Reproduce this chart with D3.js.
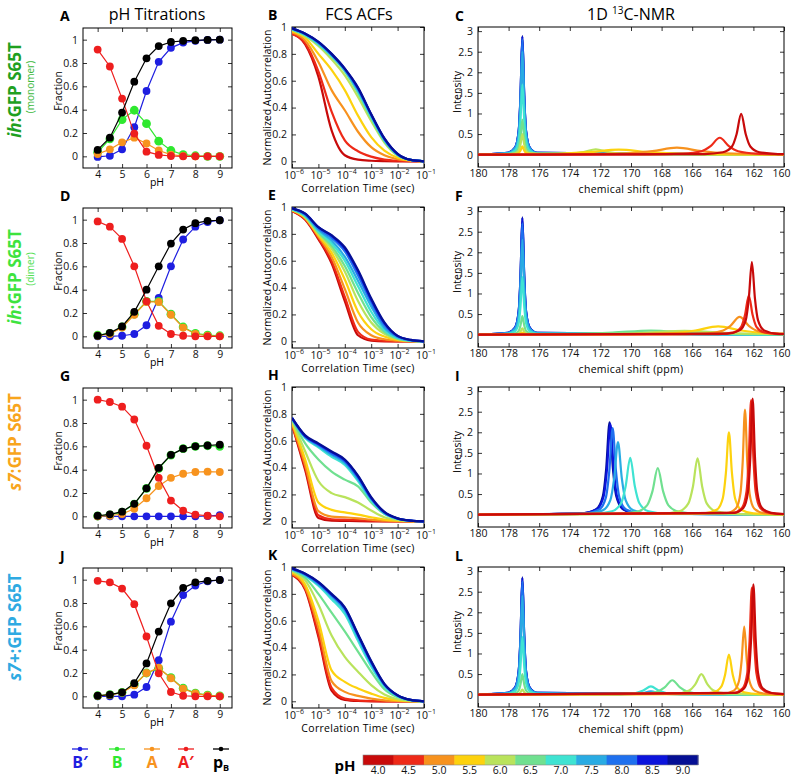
<!DOCTYPE html>
<html><head><meta charset="utf-8">
<script src="https://cdn.jsdelivr.net/npm/d3@7"></script>
<style>body{margin:0;background:#fff}svg{display:block}</style>
</head><body><svg id="c" width="792" height="778"></svg>
<script>
// ================= DATA =================
const pHLabels = ["4.0","4.5","5.0","5.5","6.0","6.5","7.0","7.5","8.0","8.5","9.0"];
const pHColors = ["#c80a0a","#ee2a18","#f7921e","#fdd20e","#b9e35c","#70e090","#3fe3d2","#29abe3","#1f70ee","#0c14dc","#050f94"];

const titrPH = [4,4.5,5,5.5,6,6.5,7,7.5,8,8.5,9];
const seriesNames = ["B′","B","A","A′","p"];
const seriesColors = ["#1e1ee0","#2fe82f","#f7931e","#ee1e1e","#000000"];

// monomer (A)
const monoBp = [-0.005,0.005,0.06,0.25,0.56,0.81,0.93,0.975,0.99,0.998,1.0];
const monoB  = [0.035,0.15,0.315,0.395,0.28,0.13,0.05,0.015,0.005,0.0,0.0];
const monoA  = [0.02,0.06,0.12,0.16,0.11,0.05,0.015,0.003,0,0,0];
const monoAp = [0.915,0.77,0.495,0.195,0.04,0.012,0.003,0,0,0,0];
const monoPB = [0.055,0.16,0.375,0.64,0.84,0.945,0.98,0.99,0.995,0.998,1.0];
// dimer (D)
const dimBp = [0,0,0.005,0.02,0.095,0.33,0.6,0.83,0.94,0.98,0.995];
const dimB  = [0.01,0.025,0.08,0.19,0.3,0.3,0.19,0.08,0.025,0.01,0.005];
const dimA  = [0.005,0.02,0.075,0.185,0.295,0.295,0.185,0.075,0.02,0.005,0.002];
const dimAp = [0.985,0.94,0.835,0.6,0.3,0.09,0.02,0.005,0,0,0];
const dimPB = [0.005,0.03,0.085,0.21,0.4,0.6,0.795,0.915,0.97,0.99,0.995];
// s7 (G)
const s7Bp = [0,0,0,0,0,0,0,0,0,0.003,0.01];
const s7B  = [0.003,0.013,0.035,0.105,0.24,0.41,0.525,0.58,0.6,0.605,0.6];
const s7A  = [0,0.005,0.02,0.065,0.155,0.26,0.33,0.365,0.38,0.383,0.38];
const s7Ap = [1.0,0.98,0.94,0.83,0.605,0.33,0.135,0.048,0.014,0.005,0];
const s7PB = [0.005,0.017,0.04,0.107,0.24,0.415,0.527,0.58,0.6,0.607,0.614];
// s7+ (J)
const s7pBp = [0,0,0,0.014,0.08,0.31,0.64,0.868,0.95,0.986,0.997];
const s7pB  = [0.005,0.014,0.034,0.1,0.2,0.24,0.16,0.07,0.028,0.01,0.003];
const s7pA  = [0.004,0.012,0.032,0.095,0.2,0.245,0.155,0.065,0.025,0.008,0.002];
const s7pAp = [0.99,0.977,0.924,0.79,0.513,0.197,0.037,0.005,0,0,0];
const s7pPB = [0.005,0.014,0.034,0.113,0.282,0.555,0.797,0.93,0.977,0.99,0.997];

// FCS ACFs: log10(tau) sample grid, one curve per pH (4.0 ... 9.0)
const fcsLogTau = [-6,-5.5,-5,-4.5,-4,-3.5,-3,-2.5,-2,-1.5,-1];
const fcsMonomer = [
 [0.95,0.87,0.63,0.23,0.045,0.012,0.004,0.001,0,0,0],
 [0.95,0.88,0.67,0.37,0.155,0.075,0.035,0.013,0.004,0.001,0],
 [0.96,0.9,0.74,0.53,0.38,0.22,0.105,0.045,0.015,0.004,0],
 [0.97,0.92,0.8,0.68,0.53,0.34,0.18,0.08,0.027,0.006,0],
 [0.98,0.93,0.86,0.76,0.64,0.48,0.3,0.14,0.042,0.008,0],
 [0.98,0.94,0.87,0.78,0.67,0.51,0.32,0.15,0.045,0.01,0],
 [0.985,0.94,0.875,0.785,0.675,0.52,0.33,0.155,0.05,0.01,0],
 [0.985,0.945,0.88,0.79,0.68,0.53,0.34,0.16,0.05,0.01,0],
 [0.99,0.95,0.885,0.795,0.685,0.54,0.345,0.165,0.052,0.01,0],
 [0.99,0.95,0.89,0.8,0.69,0.545,0.35,0.17,0.055,0.01,0],
 [0.99,0.95,0.89,0.8,0.69,0.55,0.35,0.17,0.055,0.01,0]
];
const fcsDimer = [
 [0.97,0.905,0.76,0.58,0.3,0.045,0.005,0,0,0,0],
 [0.97,0.91,0.77,0.6,0.33,0.07,0.012,0.003,0,0,0],
 [0.975,0.915,0.78,0.63,0.39,0.14,0.045,0.015,0.004,0,0],
 [0.975,0.92,0.79,0.66,0.46,0.22,0.09,0.035,0.01,0.002,0],
 [0.98,0.925,0.8,0.69,0.52,0.3,0.14,0.055,0.015,0.003,0],
 [0.98,0.93,0.81,0.71,0.56,0.36,0.18,0.07,0.02,0.004,0],
 [0.985,0.935,0.82,0.73,0.6,0.41,0.22,0.085,0.025,0.005,0],
 [0.985,0.94,0.83,0.75,0.63,0.45,0.26,0.1,0.03,0.006,0],
 [0.99,0.945,0.84,0.77,0.67,0.49,0.29,0.12,0.035,0.008,0],
 [0.99,0.95,0.85,0.785,0.69,0.52,0.31,0.135,0.04,0.01,0],
 [0.99,0.95,0.85,0.79,0.7,0.53,0.32,0.14,0.04,0.01,0]
];
const fcsS7 = [
 [0.72,0.38,0.025,0.005,0.003,0.001,0,0,0,0,0],
 [0.72,0.4,0.045,0.015,0.012,0.008,0.004,0.001,0,0,0],
 [0.73,0.42,0.075,0.035,0.03,0.022,0.012,0.004,0.001,0,0],
 [0.74,0.46,0.14,0.085,0.066,0.05,0.03,0.012,0.004,0.001,0],
 [0.75,0.52,0.3,0.21,0.18,0.14,0.08,0.03,0.01,0.002,0],
 [0.76,0.58,0.46,0.37,0.31,0.26,0.14,0.055,0.017,0.004,0],
 [0.765,0.62,0.55,0.48,0.42,0.3,0.155,0.058,0.018,0.004,0],
 [0.765,0.625,0.56,0.495,0.435,0.315,0.165,0.062,0.02,0.004,0],
 [0.77,0.63,0.57,0.505,0.445,0.325,0.17,0.065,0.02,0.005,0],
 [0.77,0.635,0.575,0.515,0.455,0.335,0.175,0.068,0.021,0.005,0],
 [0.77,0.64,0.58,0.52,0.46,0.34,0.18,0.07,0.022,0.005,0]
];
const fcsS7p = [
 [0.94,0.83,0.48,0.08,0.01,0.002,0,0,0,0,0],
 [0.945,0.84,0.5,0.1,0.02,0.007,0.002,0,0,0,0],
 [0.95,0.85,0.55,0.15,0.07,0.04,0.02,0.007,0.002,0,0],
 [0.96,0.87,0.6,0.23,0.145,0.095,0.057,0.025,0.007,0.001,0],
 [0.97,0.9,0.72,0.49,0.33,0.22,0.12,0.05,0.015,0.003,0],
 [0.975,0.92,0.8,0.66,0.52,0.37,0.22,0.09,0.03,0.006,0],
 [0.98,0.935,0.86,0.76,0.65,0.45,0.26,0.11,0.037,0.008,0],
 [0.985,0.94,0.87,0.78,0.675,0.475,0.28,0.12,0.04,0.009,0],
 [0.985,0.945,0.88,0.79,0.69,0.49,0.29,0.125,0.043,0.01,0],
 [0.99,0.95,0.885,0.795,0.695,0.495,0.295,0.128,0.044,0.01,0],
 [0.99,0.95,0.89,0.8,0.7,0.5,0.3,0.13,0.045,0.01,0]
];

// 1D 13C-NMR spectra: [ppm, intensity] points, one spectrum per pH (4.0 ... 9.0)
const nmrMonomer = [
 [[180,0],[165.2,0.015],[164.0,0.058],[163.4,0.198],[163.1,0.495],[162.8,0.99],[162.5,0.495],[162.2,0.198],[161.6,0.058],[160.4,0.015],[160,0.012]],
 [[180,0],[169.0,0.006],[166.6,0.024],[165.4,0.082],[164.8,0.205],[164.2,0.41],[163.6,0.205],[163.0,0.082],[161.8,0.024],[160,0.01]],
 [[180,0],[173.4,0.01],[170.2,0.034],[168.6,0.085],[167.0,0.17],[165.4,0.085],[163.8,0.034],[160.6,0.01],[160,0.008]],
 [[180,0],[178.06,0.003],[177.58,0.012],[177.34,0.04],[177.22,0.1],[177.1,0.2],[176.98,0.1],[176.86,0.042],[176.62,0.02],[174.8,0.026],[172.8,0.06],[170.8,0.12],[168.8,0.06],[166.8,0.024],[162.8,0.007],[160,0.003]],
 [[180,0],[178.06,0.008],[177.58,0.03],[177.34,0.1],[177.22,0.25],[177.1,0.5],[176.98,0.25],[176.86,0.1],[176.62,0.032],[175.5,0.01],[173.9,0.026],[173.1,0.065],[172.3,0.13],[171.5,0.065],[170.7,0.026],[169.1,0.008],[160,0]],
 [[180,0],[178.06,0.013],[177.58,0.05],[177.34,0.17],[177.22,0.43],[177.1,0.85],[176.98,0.43],[176.86,0.17],[176.62,0.05],[176.14,0.015],[173,0.016],[171,0.022],[169,0.04],[167,0.02],[165,0.008],[160,0]],
 [[180,0],[178.06,0.026],[177.58,0.1],[177.34,0.34],[177.22,0.85],[177.1,1.7],[176.98,0.85],[176.86,0.34],[176.62,0.1],[176.14,0.026],[160,0]],
 [[180,0],[178.06,0.038],[177.58,0.15],[177.34,0.5],[177.22,1.25],[177.1,2.5],[176.98,1.25],[176.86,0.5],[176.62,0.15],[176.14,0.038],[160,0]],
 [[180,0],[178.06,0.042],[177.58,0.165],[177.34,0.56],[177.22,1.4],[177.1,2.8],[176.98,1.4],[176.86,0.56],[176.62,0.165],[176.14,0.042],[160,0]],
 [[180,0],[178.06,0.043],[177.58,0.17],[177.34,0.57],[177.22,1.43],[177.1,2.86],[176.98,1.43],[176.86,0.57],[176.62,0.17],[176.14,0.043],[160,0]],
 [[180,0],[178.06,0.044],[177.58,0.17],[177.34,0.58],[177.22,1.44],[177.1,2.88],[176.98,1.44],[176.86,0.58],[176.62,0.17],[176.14,0.044],[160,0]]
];
const nmrDimer = [
 [[180,0],[163.7,0.027],[162.9,0.104],[162.5,0.352],[162.3,0.88],[162.1,1.76],[161.9,0.88],[161.7,0.352],[161.3,0.104],[160.5,0.027],[160,0.02]],
 [[180,0],[164.3,0.015],[163.3,0.056],[162.8,0.19],[162.55,0.475],[162.3,0.95],[162.05,0.475],[161.8,0.19],[161.3,0.056],[160.3,0.015],[160,0.012]],
 [[180,0],[167.7,0.007],[165.3,0.025],[164.1,0.086],[163.5,0.215],[162.9,0.43],[162.3,0.215],[161.7,0.086],[160.5,0.025],[160,0.018]],
 [[180,0],[177.34,0.01],[177.22,0.025],[177.1,0.05],[176.98,0.025],[176.86,0.01],[170.3,0.012],[167.3,0.04],[165.8,0.1],[164.3,0.2],[162.8,0.1],[161.3,0.04],[160,0.022]],
 [[180,0],[177.58,0.009],[177.34,0.03],[177.22,0.075],[177.1,0.15],[176.98,0.075],[176.86,0.03],[176.62,0.01],[171.5,0.018],[169,0.045],[166.5,0.09],[164,0.045],[161.5,0.018],[160,0.012]],
 [[180,0],[178.06,0.007],[177.58,0.026],[177.34,0.09],[177.22,0.23],[177.1,0.45],[176.98,0.23],[176.86,0.09],[176.62,0.03],[176.14,0.012],[173.7,0.02],[171.2,0.05],[168.7,0.1],[166.2,0.05],[163.7,0.02],[160,0.007]],
 [[180,0],[178.06,0.021],[177.58,0.082],[177.34,0.28],[177.22,0.7],[177.1,1.4],[176.98,0.7],[176.86,0.28],[176.62,0.082],[176.14,0.022],[172,0.025],[170,0.05],[168,0.025],[164,0.006],[160,0]],
 [[180,0],[178.06,0.035],[177.58,0.135],[177.34,0.46],[177.22,1.15],[177.1,2.3],[176.98,1.15],[176.86,0.46],[176.62,0.135],[176.14,0.035],[160,0]],
 [[180,0],[178.06,0.04],[177.58,0.16],[177.34,0.54],[177.22,1.35],[177.1,2.7],[176.98,1.35],[176.86,0.54],[176.62,0.16],[176.14,0.04],[160,0]],
 [[180,0],[178.06,0.042],[177.58,0.17],[177.34,0.57],[177.22,1.42],[177.1,2.83],[176.98,1.42],[176.86,0.57],[176.62,0.17],[176.14,0.042],[160,0]],
 [[180,0],[178.06,0.043],[177.58,0.17],[177.34,0.57],[177.22,1.43],[177.1,2.85],[176.98,1.43],[176.86,0.57],[176.62,0.17],[176.14,0.043],[160,0]]
];
const nmrS7 = [
 [[180,0],[163.25,0.044],[162.65,0.166],[162.35,0.564],[162.2,1.41],[162.05,2.82],[161.9,1.41],[161.75,0.564],[161.45,0.166],[160.85,0.044],[160,0.016]],
 [[180,0],[163.35,0.043],[162.75,0.164],[162.45,0.556],[162.3,1.39],[162.15,2.78],[162.0,1.39],[161.85,0.556],[161.55,0.164],[160.95,0.043],[160,0.015]],
 [[180,0],[163.75,0.039],[163.15,0.15],[162.85,0.51],[162.7,1.275],[162.55,2.55],[162.4,1.275],[162.25,0.51],[161.95,0.15],[161.35,0.039],[160,0.012]],
 [[180,0],[165.2,0.031],[164.4,0.118],[164.0,0.4],[163.8,1.0],[163.6,2.0],[163.4,1.0],[163.2,0.4],[162.8,0.118],[162.0,0.031],[160,0.01]],
 [[180,0],[168.05,0.021],[166.85,0.08],[166.25,0.274],[165.95,0.685],[165.65,1.37],[165.35,0.685],[165.05,0.274],[164.45,0.08],[163.25,0.021],[160,0]],
 [[180,0],[171.05,0.017],[169.65,0.066],[168.95,0.226],[168.6,0.565],[168.25,1.13],[167.9,0.565],[167.55,0.226],[166.85,0.066],[165.45,0.017],[160,0]],
 [[180,0],[172.45,0.021],[171.25,0.081],[170.65,0.276],[170.35,0.69],[170.05,1.38],[169.75,0.69],[169.45,0.276],[168.85,0.081],[167.65,0.021],[160,0]],
 [[180,0],[172.85,0.027],[171.85,0.104],[171.35,0.352],[171.1,0.88],[170.85,1.76],[170.6,0.88],[170.35,0.352],[169.85,0.104],[168.85,0.027],[160,0]],
 [[180,0],[172.96,0.032],[172.08,0.124],[171.64,0.42],[171.42,1.05],[171.2,2.1],[170.98,1.05],[170.76,0.42],[170.32,0.124],[169.44,0.032],[160,0]],
 [[180,0],[173.11,0.034],[172.23,0.13],[171.79,0.44],[171.57,1.1],[171.35,2.2],[171.13,1.1],[170.91,0.44],[170.47,0.13],[169.59,0.034],[160,0]],
 [[180,0],[173.16,0.034],[172.28,0.132],[171.84,0.448],[171.62,1.12],[171.4,2.24],[171.18,1.12],[170.96,0.448],[170.52,0.132],[169.64,0.034],[160,0]]
];
const nmrS7p = [
 [[180,0],[163.2,0.041],[162.6,0.158],[162.3,0.536],[162.15,1.34],[162.0,2.68],[161.85,1.34],[161.7,0.536],[161.4,0.158],[160.8,0.041],[160,0.015]],
 [[180,0],[163.3,0.04],[162.7,0.153],[162.4,0.52],[162.25,1.3],[162.1,2.6],[161.95,1.3],[161.8,0.52],[161.5,0.153],[160.9,0.04],[160,0.014]],
 [[180,0],[163.96,0.025],[163.28,0.097],[162.94,0.33],[162.77,0.825],[162.6,1.65],[162.43,0.825],[162.26,0.33],[161.92,0.097],[161.24,0.025],[160,0.008]],
 [[180,0],[165.6,0.015],[164.6,0.057],[164.1,0.194],[163.85,0.485],[163.6,0.97],[163.35,0.485],[163.1,0.194],[162.6,0.057],[161.6,0.015],[160,0.007]],
 [[180,0],[177.58,0.007],[177.34,0.024],[177.22,0.06],[177.1,0.12],[176.98,0.06],[176.86,0.024],[176.62,0.007],[167,0.03],[166.2,0.1],[165.8,0.25],[165.4,0.5],[165.0,0.25],[164.6,0.1],[163.8,0.03],[160,0]],
 [[180,0],[178.06,0.008],[177.58,0.03],[177.34,0.1],[177.22,0.25],[177.1,0.5],[176.98,0.25],[176.86,0.1],[176.62,0.03],[176.14,0.008],[169.3,0.02],[168.3,0.07],[167.8,0.175],[167.3,0.35],[166.8,0.175],[166.3,0.07],[165.3,0.02],[160,0]],
 [[180,0],[178.06,0.021],[177.58,0.082],[177.34,0.28],[177.22,0.7],[177.1,1.4],[176.98,0.7],[176.86,0.28],[176.62,0.082],[176.14,0.021],[170.7,0.012],[169.7,0.04],[169.2,0.1],[168.7,0.2],[168.2,0.1],[167.7,0.04],[166.7,0.012],[160,0]],
 [[180,0],[178.06,0.036],[177.58,0.14],[177.34,0.48],[177.22,1.2],[177.1,2.4],[176.98,1.2],[176.86,0.48],[176.62,0.14],[176.14,0.036],[170.7,0.005],[169.7,0.016],[169.2,0.04],[168.7,0.08],[168.2,0.04],[167.7,0.016],[166.7,0.005],[160,0]],
 [[180,0],[178.06,0.041],[177.58,0.16],[177.34,0.55],[177.22,1.38],[177.1,2.75],[176.98,1.38],[176.86,0.55],[176.62,0.16],[176.14,0.041],[160,0]],
 [[180,0],[178.06,0.042],[177.58,0.17],[177.34,0.57],[177.22,1.42],[177.1,2.83],[176.98,1.42],[176.86,0.57],[176.62,0.17],[176.14,0.042],[160,0]],
 [[180,0],[178.06,0.043],[177.58,0.17],[177.34,0.57],[177.22,1.43],[177.1,2.85],[176.98,1.43],[176.86,0.57],[176.62,0.17],[176.14,0.043],[160,0]]
];

const titrXTicks = [4,5,6,7,8,9];
const fracTicks = [0,0.2,0.4,0.6,0.8,1];
const fcsXTicks = [-6,-5,-4,-3,-2,-1];
const acfTicks = [0,0.2,0.4,0.6,0.8,1];
const ppmTicks = [180,178,176,174,172,170,168,166,164,162,160];
const intTicks = [0,0.5,1,1.5,2,2.5,3];

const colTitles = ["pH Titrations","FCS ACFs","1D 13C-NMR"];
const panelLetters = [["A","B","C"],["D","E","F"],["G","H","I"],["J","K","L"]];
const rowNames = [
  {ital:"ih", rest:":GFP S65T", sub:"(monomer)", color:"#1fa01f", subColor:"#3cb93c", cy:90, sy:87},
  {ital:"ih", rest:":GFP S65T", sub:"(dimer)", color:"#3ee33e", subColor:"#55e055", cy:97, sy:89},
  {ital:"s7", rest:":GFP S65T", sub:null, color:"#f8a51c", cy:82},
  {ital:"s7+", rest:":GFP S65T", sub:null, color:"#2eaae2", cy:87}
];

// ================= DRAW =================
const FONT = '"Open Sans", "DejaVu Sans", sans-serif';
const svg = d3.select("#c").attr("font-family", FONT);
const ROW = 180;
const titrRows = [
  [monoBp, monoB, monoA, monoAp, monoPB],
  [dimBp, dimB, dimA, dimAp, dimPB],
  [s7Bp, s7B, s7A, s7Ap, s7PB],
  [s7pBp, s7pB, s7pA, s7pAp, s7pPB]
];
const fcsRows = [fcsMonomer, fcsDimer, fcsS7, fcsS7p];
const nmrRows = [nmrMonomer, nmrDimer, nmrS7, nmrS7p];

let clipId = 0;
function boxAxes(g, x, y, xt, yt, xfmt, yfmt, opt) {
  const [x0, x1] = x.range(), [yb, yt0] = y.range();
  const L = Math.min(x0,x1), R = Math.max(x0,x1);
  const style = sel => { sel.select(".domain").remove();
    sel.selectAll("line").attr("stroke","#000").attr("stroke-width",0.8);
    sel.selectAll("text").attr("font-family",FONT).attr("font-size",10.5).attr("fill","#111"); };
  const noText = sel => { style(sel); sel.selectAll("text").remove(); };
  const bx = g.append("g").attr("transform",`translate(0,${yb})`)
    .call(d3.axisBottom(x).tickValues(xt).tickSizeInner(-4).tickSizeOuter(0).tickPadding(opt.xpad).tickFormat(xfmt)).call(style);
  if (opt.noXText) bx.selectAll("text").remove();
  if (opt.lastShift) bx.selectAll(".tick text").filter(d => d === xt[xt.length-1]).attr("dx", opt.lastShift);
  g.append("g").attr("transform",`translate(0,${yt0})`)
    .call(d3.axisTop(x).tickValues(xt).tickSizeInner(-4).tickSizeOuter(0)).call(noText);
  g.append("g").attr("transform",`translate(${L},0)`)
    .call(d3.axisLeft(y).tickValues(yt).tickSizeInner(-4).tickSizeOuter(0).tickPadding(opt.ypad).tickFormat(yfmt)).call(style);
  g.append("g").attr("transform",`translate(${R},0)`)
    .call(d3.axisRight(y).tickValues(yt).tickSizeInner(-4).tickSizeOuter(0)).call(noText);
  g.append("rect").attr("x",L).attr("y",yt0).attr("width",R-L).attr("height",yb-yt0)
    .attr("fill","none").attr("stroke","#000").attr("stroke-width",1);
}
function clipFor(g, x, y) {
  const id = "clip"+(clipId++);
  const [x0,x1] = x.range(), [yb,yt0] = y.range();
  svg.append("defs").append("clipPath").attr("id",id).append("rect")
    .attr("x",Math.min(x0,x1)).attr("y",yt0).attr("width",Math.abs(x1-x0)).attr("height",yb-yt0);
  return g.append("g").attr("clip-path",`url(#${id})`);
}
const yFmt01 = d => d===0||d===1? String(d): d3.format(".1f")(d);

for (let r = 0; r < 4; r++) {
  const dy = r*ROW;
  const g = svg.append("g");

  // ---- titration ----
  const xA = d3.scaleLinear([3.4,9.5],[83,232]);
  const yA = d3.scaleLinear([-0.1,1.1],[168+dy,28+dy]);
  boxAxes(g, xA, yA, titrXTicks, fracTicks, d3.format("d"), yFmt01, {xpad:3, ypad:5});
  const ga = clipFor(g, xA, yA);
  titrRows[r].forEach((vals, si) => {
    const pts = titrPH.map((p,i)=>[p, vals[i]]);
    ga.append("path").datum(pts).attr("fill","none").attr("stroke",seriesColors[si]).attr("stroke-width",1.2)
      .attr("d", d3.line().x(d=>xA(d[0])).y(d=>yA(d[1])));
    ga.selectAll(null).data(pts).join("circle").attr("cx",d=>xA(d[0])).attr("cy",d=>yA(d[1]))
      .attr("r", si===1 ? 4.4 : 3.9).attr("fill",seriesColors[si]);
  });
  g.append("text").attr("x",157).attr("y",186+dy).attr("text-anchor","middle").attr("font-size",10.5).text("pH");
  g.append("text").attr("transform",`translate(62,${91+dy}) rotate(-90)`).attr("text-anchor","middle").attr("font-size",10.5).text("Fraction");

  // ---- FCS ----
  const xB = d3.scaleLog([1e-6,1e-1],[292,424]);
  const yB = d3.scaleLinear([-0.05,1],[168+dy,27+dy]);
  const tickTau = fcsXTicks.map(e=>Math.pow(10,e));
  boxAxes(g, xB, yB, tickTau, acfTicks, () => "", yFmt01, {xpad:3, ypad:5, noXText:true});
  fcsXTicks.forEach(e => {
    const t = g.append("text").attr("x",xB(Math.pow(10,e))+2).attr("y",179+dy).attr("text-anchor","middle").attr("font-size",10.5).attr("fill","#111");
    t.append("tspan").text("10");
    t.append("tspan").attr("dy",-5).attr("font-size",7).text("−"+(-e));
  });
  const gb = clipFor(g, xB, yB);
  fcsRows[r].forEach((vals, ci) => {
    const pts = fcsLogTau.map((e,i)=>[Math.pow(10,e), vals[i]]);
    gb.append("path").datum(pts).attr("fill","none").attr("stroke",pHColors[ci]).attr("stroke-width",2.2)
      .attr("stroke-linejoin","round")
      .attr("d", d3.line().x(d=>xB(d[0])).y(d=>yB(d[1])).curve(d3.curveMonotoneX));
  });
  g.append("text").attr("x",358).attr("y",192+dy).attr("text-anchor","middle").attr("font-size",10.5).attr("letter-spacing",0.3).text("Correlation Time (sec)");
  g.append("text").attr("transform",`translate(271,${97.5+dy}) rotate(-90)`).attr("text-anchor","middle").attr("font-size",10.5).text("Normalized Autocorrelation");

  // ---- NMR ----
  const xC = d3.scaleLinear([180,160],[478,784]);
  const yC = d3.scaleLinear([-0.3,3.1],[167+dy,27+dy]);
  boxAxes(g, xC, yC, ppmTicks, intTicks, d3.format("d"), d => String(d), {xpad:3, ypad:5, lastShift:-3});
  const gc = clipFor(g, xC, yC);
  for (let ci = 10; ci >= 0; ci--) {
    const pts = nmrRows[r][ci].slice().sort((a,b)=>b[0]-a[0]);
    gc.append("path").datum(pts).attr("fill","none").attr("stroke",pHColors[ci]).attr("stroke-width",2.2)
      .attr("stroke-linejoin","round")
      .attr("d", d3.line().x(d=>xC(d[0])).y(d=>yC(d[1])).curve(d3.curveMonotoneX));
  }
  g.append("text").attr("x",631).attr("y",193+dy).attr("text-anchor","middle").attr("font-size",10.5).attr("letter-spacing",0.3).text("chemical shift (ppm)");
  g.append("text").attr("transform",`translate(461,${92+dy}) rotate(-90)`).attr("text-anchor","middle").attr("font-size",10.5).text("Intensity");

  // panel letters
  [[60,21],[268,20],[455,21]].forEach(([lx,ly],k) => {
    g.append("text").attr("x",lx).attr("y",ly+dy).attr("font-size",14).attr("font-weight","bold").text(panelLetters[r][k]);
  });

  // row label
  const rn = rowNames[r];
  const rt = g.append("text").attr("transform",`translate(21,${rn.cy+dy}) rotate(-90)`).attr("text-anchor","middle")
    .attr("font-size",17).attr("font-weight","bold").attr("fill",rn.color);
  rt.append("tspan").attr("font-style","italic").text(rn.ital);
  rt.append("tspan").text(rn.rest);
  if (rn.sub) {
    g.append("text").attr("transform",`translate(34,${rn.sy+dy}) rotate(-90)`).attr("text-anchor","middle")
      .attr("font-size",10).attr("fill",rn.subColor).text(rn.sub);
  }
}

// column titles
svg.append("text").attr("x",157).attr("y",20).attr("text-anchor","middle").attr("font-size",16).text(colTitles[0]);
svg.append("text").attr("x",359).attr("y",20).attr("text-anchor","middle").attr("font-size",16).text(colTitles[1]);
const t3 = svg.append("text").attr("x",631).attr("y",20).attr("text-anchor","middle").attr("font-size",16);
t3.append("tspan").text("1D ");
t3.append("tspan").attr("font-size",10).attr("dy",-6).text("13");
t3.append("tspan").attr("dy",6).text("C-NMR");

// legend
const legX = [80,117,152,186,221];
seriesNames.forEach((nm,i) => {
  svg.append("line").attr("x1",legX[i]-8).attr("x2",legX[i]+8).attr("y1",749).attr("y2",749).attr("stroke",seriesColors[i]).attr("stroke-width",1.3);
  svg.append("circle").attr("cx",legX[i]).attr("cy",749).attr("r",2.3).attr("fill",seriesColors[i]);
  const t = svg.append("text").attr("x",legX[i]).attr("y",768).attr("text-anchor","middle").attr("font-size",16).attr("font-weight","bold").attr("fill",seriesColors[i]);
  t.append("tspan").text(nm);
  if (i===4) t.append("tspan").attr("font-size",9).attr("dy",3).text("B");
});

// colorbar
const cb = d3.scaleBand(pHLabels,[363,698]);
svg.selectAll(null).data(pHLabels).join("rect").attr("x",d=>cb(d)).attr("y",755).attr("width",cb.bandwidth()+0.5).attr("height",10).attr("fill",(d,i)=>pHColors[i]);
svg.append("rect").attr("x",363).attr("y",755).attr("width",335).attr("height",10).attr("fill","none").attr("stroke","#888").attr("stroke-width",0.6);
svg.selectAll(null).data(pHLabels).join("text").attr("x",d=>cb(d)+cb.bandwidth()/2).attr("y",774).attr("text-anchor","middle").attr("font-size",10.5).attr("fill","#111").text(d=>d);
svg.append("text").attr("x",345).attr("y",771).attr("text-anchor","middle").attr("font-size",15).attr("font-weight","bold").text("pH");
</script></body></html>
